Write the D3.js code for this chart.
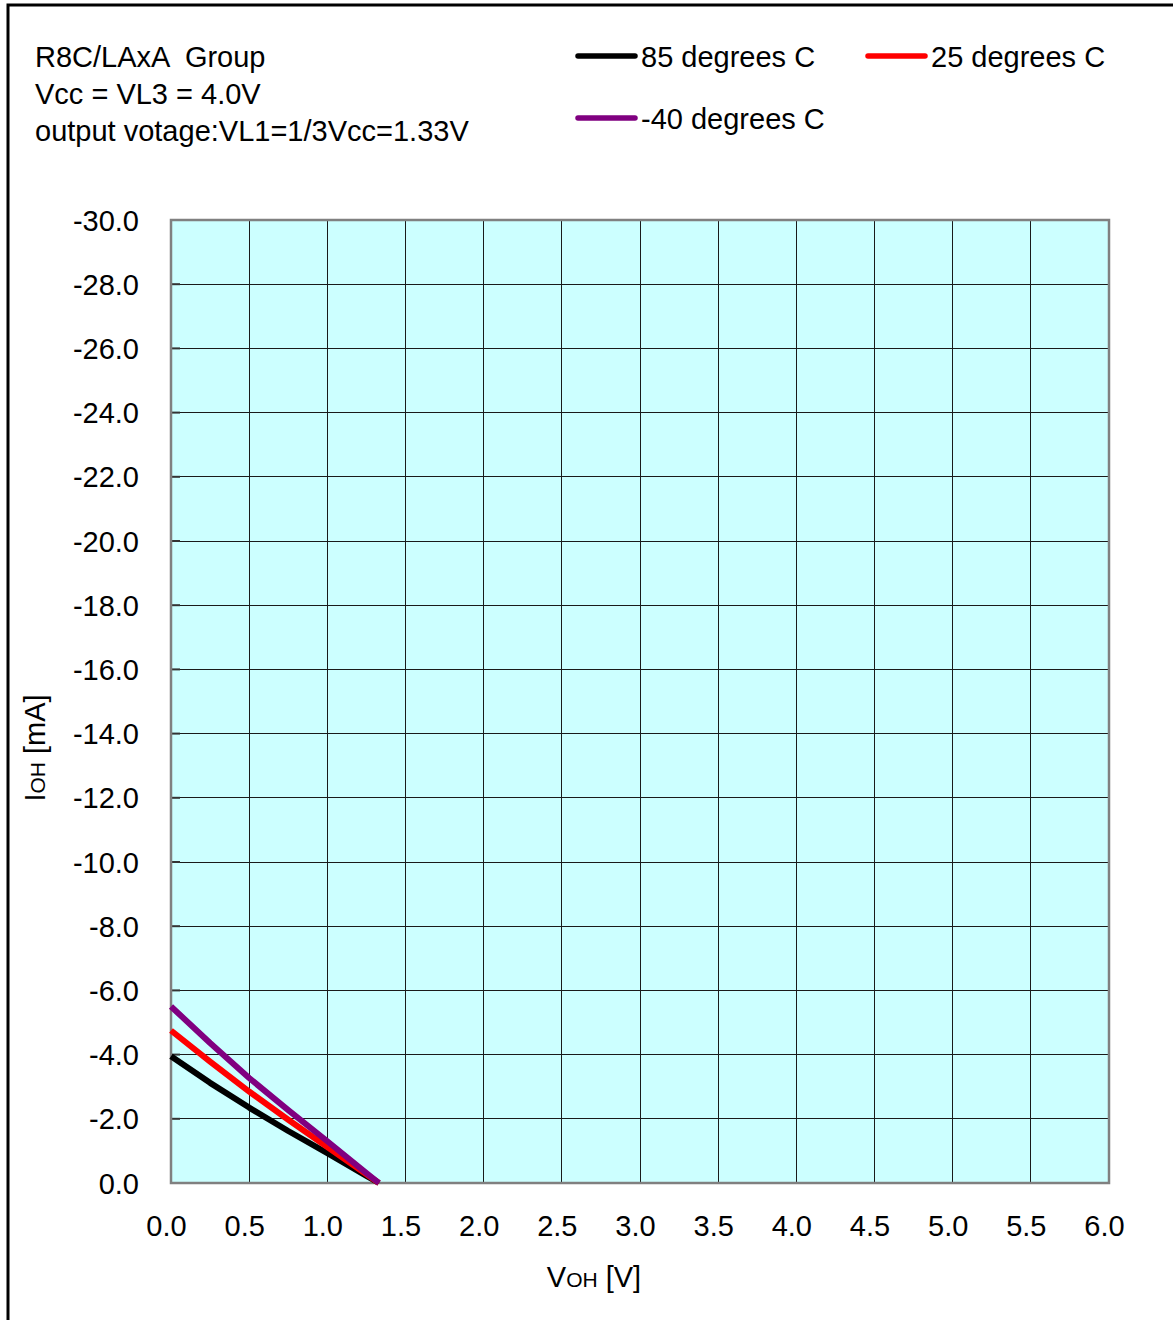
<!DOCTYPE html>
<html><head><meta charset="utf-8">
<script src="https://cdn.jsdelivr.net/npm/d3@7"></script>
<style>body{margin:0;background:#fff}svg{display:block}text{font-family:"Liberation Sans",Arial,sans-serif;fill:#000;white-space:pre}</style>
</head><body>
<script>
const xTicks = [0,0.5,1,1.5,2,2.5,3,3.5,4,4.5,5,5.5,6];
const yTicks = [0,-2,-4,-6,-8,-10,-12,-14,-16,-18,-20,-22,-24,-26,-28,-30];
const voh = [0,0.25,0.5,0.75,1.0,1.25,1.33];
const ioh85 = [-3.95,-3.12,-2.35,-1.62,-0.93,-0.22,0];
const ioh25 = [-4.75,-3.78,-2.85,-1.97,-1.12,-0.27,0];
const iohM40 = [-5.5,-4.36,-3.27,-2.27,-1.30,-0.31,0];
const seriesNames = ["85 degrees C","25 degrees C","-40 degrees C"];
const seriesColors = ["#000000","#ff0000","#800080"];
const seriesValues = [ioh85, ioh25, iohM40];
const titleLines = ["R8C/LAxA  Group","Vcc = VL3 = 4.0V","output votage:VL1=1/3Vcc=1.33V"];

const W=1173,H=1320, FS=29;
const fmt = d => d3.format(".1f")(d).replace("\u2212","-");
const svg=d3.select("body").append("svg").attr("width",W).attr("height",H);
const x=d3.scaleLinear().domain([0,6]).range([171,1109]);
const y=d3.scaleLinear().domain([0,-30]).range([1183,220]);

// outer frame
svg.append("rect").attr("x",8).attr("y",5).attr("width",1300).attr("height",1400)
  .attr("fill","none").attr("stroke","#000").attr("stroke-width",3);

// plot background
svg.append("rect").attr("x",x(0)).attr("y",y(-30)).attr("width",x(6)-x(0)).attr("height",y(0)-y(-30))
  .attr("fill","#ccffff");

// grid
const g=svg.append("g");
g.selectAll(".vg").data(xTicks.slice(1,-1)).join("line")
  .attr("x1",d=>x(d)).attr("x2",d=>x(d)).attr("y1",y(-30)).attr("y2",y(0))
  .attr("stroke","#1a1a1a").attr("stroke-width",1).attr("shape-rendering","crispEdges");
g.selectAll(".hg").data(yTicks.slice(1,-1)).join("line")
  .attr("x1",x(0)).attr("x2",x(6)).attr("y1",d=>y(d)).attr("y2",d=>y(d))
  .attr("stroke","#1a1a1a").attr("stroke-width",1).attr("shape-rendering","crispEdges");
g.selectAll(".yt").data(yTicks).join("line")
  .attr("x1",x(0)).attr("x2",x(0)+9).attr("y1",d=>y(d)).attr("y2",d=>y(d))
  .attr("stroke","#333").attr("stroke-width",2);

// plot border
svg.append("rect").attr("x",x(0)).attr("y",y(-30)).attr("width",x(6)-x(0)).attr("height",y(0)-y(-30))
  .attr("fill","none").attr("stroke","#808080").attr("stroke-width",2.5);

// axes labels
const yAxis=d3.axisLeft(y).tickValues(yTicks).tickFormat(fmt).tickSize(0).tickPadding(32);
const ya=svg.append("g").attr("transform",`translate(${x(0)},0)`).call(yAxis);
ya.select(".domain").remove();
ya.selectAll("text").attr("font-size",FS).attr("font-family","Liberation Sans, Arial, sans-serif").attr("dy","0.35em").attr("fill","#000");

const xAxis=d3.axisBottom(x).tickValues(xTicks).tickFormat(fmt).tickSize(0).tickPadding(32);
const xa=svg.append("g").attr("transform",`translate(-5,${y(0)})`).call(xAxis);
xa.select(".domain").remove();
xa.selectAll("text").attr("font-size",FS).attr("font-family","Liberation Sans, Arial, sans-serif").attr("fill","#000");

// lines
const line=d3.line().x((d,i)=>x(voh[i])).y(d=>y(d));
seriesValues.forEach((vals,k)=>{
  svg.append("path").attr("d",line(vals)).attr("fill","none")
    .attr("stroke",seriesColors[k]).attr("stroke-width",6).attr("stroke-linejoin","round");
});

// title block
svg.selectAll(".title").data(titleLines).join("text")
  .attr("x",35).attr("y",(d,i)=>67+i*37).attr("font-size",FS).text(d=>d);

// legend
const legendPos=[[578,56],[868,56],[578,118]];
seriesNames.forEach((n,k)=>{
  const [lx,ly]=legendPos[k];
  svg.append("line").attr("x1",lx).attr("x2",lx+57).attr("y1",ly).attr("y2",ly)
    .attr("stroke",seriesColors[k]).attr("stroke-width",5.5).attr("stroke-linecap","round");
  svg.append("text").attr("x",lx+63).attr("y",ly+11).attr("font-size",FS).text(n);
});

// axis titles
const xt=svg.append("text").attr("x",594).attr("y",1287).attr("text-anchor","middle").attr("font-size",FS);
xt.append("tspan").text("V");
xt.append("tspan").attr("font-size",21).text("OH");
xt.append("tspan").text(" [V]");

const yt=svg.append("text").attr("transform","translate(45,748) rotate(-90)").attr("text-anchor","middle").attr("font-size",FS);
yt.append("tspan").text("I");
yt.append("tspan").attr("font-size",21).text("OH");
yt.append("tspan").text(" [mA]");
</script>
</body></html>
